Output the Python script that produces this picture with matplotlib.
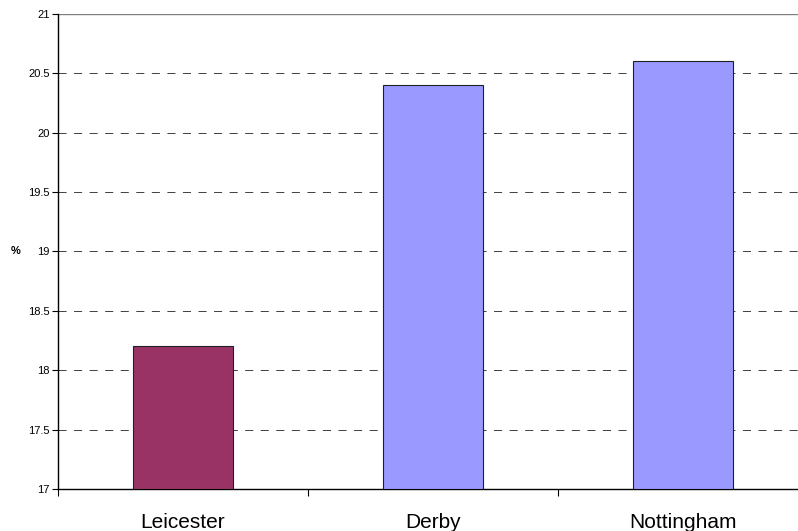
import matplotlib
matplotlib.use("Agg")
import matplotlib.pyplot as plt

plt.rcParams['font.family'] = ['Liberation Sans', 'DejaVu Sans']

cities = ['Leicester', 'Derby', 'Nottingham']
values = [18.2, 20.4, 20.6]
colors = ['#993366', '#9999FF', '#9999FF']
yticks = [17, 17.5, 18, 18.5, 19, 19.5, 20, 20.5, 21]

fig = plt.figure(figsize=(7.98, 5.31), dpi=100)
# plot area runs a little past the right edge of the figure
ax = fig.add_axes([0.0727, 0.079, 0.94, 0.895])

x = range(len(cities))
ax.bar(x, [v - 17 for v in values], bottom=17, width=0.4, color=colors,
       edgecolor='#202020', linewidth=0.8, zorder=3)

ax.set_ylim(17, 21)
ax.set_xlim(-0.5, 2.5)
ax.set_yticks(yticks)
ax.set_yticklabels([f'{t:g}' for t in yticks], fontsize=8)

# dashed gridlines, the top one solid grey
for t in yticks[1:-1]:
    ax.axhline(t, color='#404040', linestyle=(0, (8.3, 7.7)), linewidth=0.7, zorder=1)
ax.axhline(21, color='#808080', linewidth=1.0, zorder=1)

# category labels centred, ticks between categories
ax.set_xticks([-0.5, 0.5, 1.5])
ax.set_xticklabels([])
ax.set_xticks(list(x), minor=True)
ax.set_xticklabels(cities, minor=True, fontsize=15)
ax.tick_params(axis='x', which='minor', length=0, pad=17)
ax.tick_params(axis='x', which='major', length=5, direction='out')
ax.tick_params(axis='y', length=4, direction='out', pad=2)

for side in ['top', 'right']:
    ax.spines[side].set_visible(False)
ax.spines['left'].set_linewidth(1.0)
ax.spines['bottom'].set_linewidth(1.0)

ax.set_ylabel('%', fontsize=8, fontweight='bold', rotation=0, labelpad=9, va='center')

fig.savefig('out.png', dpi=100)
